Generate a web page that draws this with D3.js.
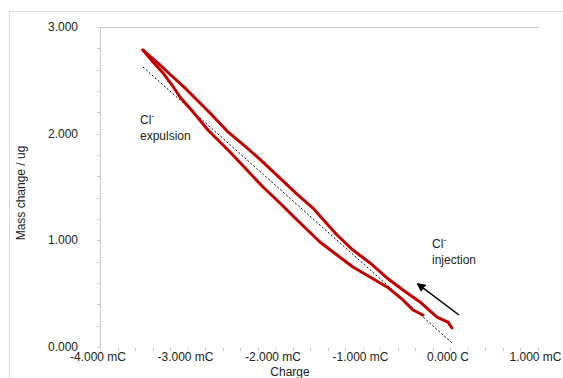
<!DOCTYPE html>
<html>
<head>
<meta charset="utf-8">
<script src="https://cdn.jsdelivr.net/npm/d3@7"></script>
<style>
  body { margin: 0; background: #fff; }
  text { font-family: "Liberation Sans", Arial, sans-serif; }
</style>
</head>
<body>
<div id="graph"></div>
<script>
// data (charge in mC, mass in ug)
var upperCharge = [-3.509, -3.337, -3.166, -3.017, -2.891, -2.720, -2.537, -2.320, -2.137, -1.943, -1.749, -1.566, -1.486, -1.291, -1.109, -0.914, -0.720, -0.537, -0.343, -0.149, -0.023, 0.023];
var upperMass   = [2.784, 2.662, 2.531, 2.419, 2.316, 2.175, 2.016, 1.866, 1.734, 1.584, 1.434, 1.303, 1.228, 1.050, 0.909, 0.788, 0.647, 0.534, 0.422, 0.281, 0.234, 0.178];
var lowerCharge = [-3.509, -3.394, -3.280, -3.177, -3.086, -2.926, -2.766, -2.514, -2.320, -2.137, -1.943, -1.771, -1.486, -1.291, -1.109, -0.914, -0.720, -0.537, -0.423, -0.309];
var lowerMass   = [2.784, 2.672, 2.569, 2.456, 2.344, 2.194, 2.034, 1.828, 1.659, 1.500, 1.350, 1.209, 0.984, 0.862, 0.750, 0.656, 0.563, 0.441, 0.347, 0.300];
var fitCharge = [-3.509, 0.023];
var fitMass   = [2.625, 0.038];
var arrowCharge = [0.103, -0.366];
var arrowMass   = [0.30, 0.59];

var xTicks = [-4, -3, -2, -1, 0, 1];
var xTickLabels = ["-4.000 mC", "-3.000 mC", "-2.000 mC", "-1.000 mC", "0.000 C", "1.000 mC"];
var yTicks = [0, 1, 2, 3];
var yTickLabels = ["0.000", "1.000", "2.000", "3.000"];

//measurements
var width = 563;
var height = 378;

var svg = d3.select("#graph").append("svg")
    .attr("width", width)
    .attr("height", height);

// outer chart frame
svg.append("rect")
    .attr("x", 9.5).attr("y", 11.5)
    .attr("width", 700).attr("height", 500)
    .attr("fill", "#fff")
    .attr("stroke", "#d9d9d9");

var x = d3.scaleLinear().domain([-4, 1]).range([100, 537.5]);
var y = d3.scaleLinear().domain([0, 3]).range([347, 27]);

// plot area top edge
svg.append("line")
    .attr("x1", x(-4)).attr("x2", 539)
    .attr("y1", y(3) + 0.5).attr("y2", y(3) + 0.5)
    .attr("stroke", "#c8c8c8");

// y axis line
svg.append("line")
    .attr("x1", x(-4) + 0.5).attr("x2", x(-4) + 0.5)
    .attr("y1", y(3)).attr("y2", y(0))
    .attr("stroke", "#c8c8c8");

// minor ticks
var yMinor = d3.range(0, 3.001, 0.2);
svg.selectAll(".ytick").data(yMinor).enter().append("line")
    .attr("class", "ytick")
    .attr("x1", x(-4) - 3).attr("x2", x(-4))
    .attr("y1", function(d) { return Math.round(y(d)) + 0.5; })
    .attr("y2", function(d) { return Math.round(y(d)) + 0.5; })
    .attr("stroke", "#d0d0d0");

var xMinor = d3.range(-4, 1.001, 0.2);
svg.selectAll(".xtick").data(xMinor).enter().append("line")
    .attr("class", "xtick")
    .attr("x1", function(d) { return Math.round(x(d)) + 0.5; })
    .attr("x2", function(d) { return Math.round(x(d)) + 0.5; })
    .attr("y1", y(0) + 1).attr("y2", y(0) + 4)
    .attr("stroke", "#d0d0d0");

// tick labels
svg.selectAll(".ylab").data(yTicks).enter().append("text")
    .attr("class", "ylab")
    .attr("x", 78)
    .attr("y", function(d) { return y(d) + 4; })
    .attr("text-anchor", "end")
    .style("font-size", "12px")
    .attr("fill", "#222")
    .text(function(d, i) { return yTickLabels[i]; });

svg.selectAll(".xlab").data(xTicks).enter().append("text")
    .attr("class", "xlab")
    .attr("x", function(d) { return x(d) - 2; })
    .attr("y", 361)
    .attr("text-anchor", "middle")
    .style("font-size", "12px")
    .attr("fill", "#222")
    .text(function(d, i) { return xTickLabels[i]; });

// axis titles
svg.append("text")
    .attr("x", 290).attr("y", 376)
    .attr("text-anchor", "middle")
    .style("font-size", "12px")
    .attr("fill", "#222")
    .text("Charge");

svg.append("text")
    .attr("transform", "translate(25,193) rotate(-90)")
    .attr("text-anchor", "middle")
    .style("font-size", "12px")
    .attr("fill", "#222")
    .text("Mass change / ug");

// curves
var line = d3.line()
    .x(function(d) { return x(d[0]); })
    .y(function(d) { return y(d[1]); });

var upper = upperCharge.map(function(c, i) { return [c, upperMass[i]]; });
var lower = lowerCharge.map(function(c, i) { return [c, lowerMass[i]]; });
var fit = fitCharge.map(function(c, i) { return [c, fitMass[i]]; });

svg.append("path")
    .datum(fit)
    .attr("fill", "none")
    .attr("stroke", "#000")
    .attr("stroke-width", 1)
    .attr("stroke-dasharray", "2,2")
    .attr("d", line);

[upper, lower].forEach(function(s) {
    svg.append("path")
        .datum(s)
        .attr("fill", "none")
        .attr("stroke", "#c00000")
        .attr("stroke-width", 3)
        .attr("stroke-linejoin", "round")
        .attr("stroke-linecap", "round")
        .attr("d", line);
});

// arrow
svg.append("defs").append("marker")
    .attr("id", "head")
    .attr("viewBox", "0 0 10 10")
    .attr("refX", 8).attr("refY", 5)
    .attr("markerWidth", 6).attr("markerHeight", 6)
    .attr("orient", "auto")
    .append("path")
    .attr("d", "M0,0 L10,5 L0,10 z")
    .attr("fill", "#000");

svg.append("line")
    .attr("x1", x(arrowCharge[0])).attr("y1", y(arrowMass[0]))
    .attr("x2", x(arrowCharge[1])).attr("y2", y(arrowMass[1]))
    .attr("stroke", "#000")
    .attr("stroke-width", 1.5)
    .attr("marker-end", "url(#head)");

// annotations
function note(c, m, word) {
    var t = svg.append("text")
        .attr("x", x(c)).attr("y", y(m))
        .style("font-size", "12px")
        .attr("fill", "#222");
    t.append("tspan").text("Cl");
    t.append("tspan").attr("dy", -5).style("font-size", "9px").text("-");
    svg.append("text")
        .attr("x", x(c)).attr("y", y(m) + 16)
        .style("font-size", "12px")
        .attr("fill", "#222")
        .text(word);
}
note(-3.543, 2.09, "expulsion");
note(-0.206, 0.925, "injection");
</script>
</body>
</html>
